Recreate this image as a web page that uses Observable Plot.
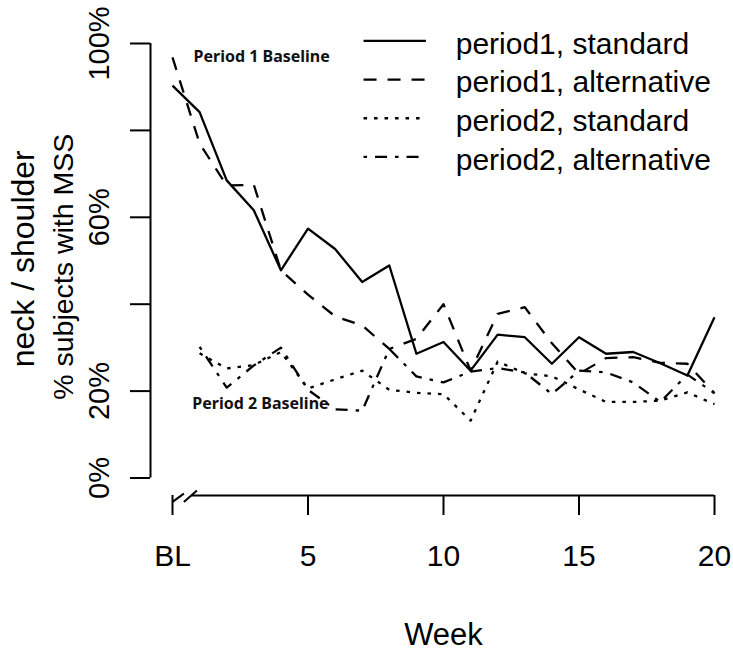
<!DOCTYPE html>
<html>
<head>
<meta charset="utf-8">
<script src="https://cdn.jsdelivr.net/npm/d3@7"></script>
<script src="https://cdn.jsdelivr.net/npm/@observablehq/plot@0.6"></script>
<style>
  html, body { margin: 0; padding: 0; background: #fff; }
  #chart svg { display: block; }
</style>
</head>
<body>
<div id="chart"></div>
<script>
// ---------- data ----------
const weeks = [0,1,2,3,4,5,6,7,8,9,10,11,12,13,14,15,16,17,18,19,20];
const p1Standard    = [90.3,84.2,68.5,61.6,47.8,57.4,52.7,45.1,48.9,28.6,31.3,24.7,33.0,32.4,26.3,32.4,28.6,29.0,26.4,23.6,37.0];
const p1Alternative = [96.8,77.0,67.3,67.5,47.8,42.2,37.2,35.1,29.7,32.0,40.0,24.7,37.8,39.3,31.0,24.0,27.6,27.8,26.5,26.3,19.5];
const p2Weeks = [1,2,3,4,5,6,7,8,9,10,11,12,13,14,15,16,17,18,19,20];
const p2Standard    = [28.7,25.2,26.0,29.0,20.6,22.7,24.7,20.3,19.6,19.3,13.2,26.8,24.1,23.4,20.4,17.5,17.5,17.8,19.7,17.0];
const p2Alternative = [30.2,20.8,25.9,30.0,20.3,15.8,15.5,29.7,23.4,22.0,24.5,25.3,24.3,19.3,24.7,24.3,22.0,17.5,23.8,19.5];

const seriesNames = ["period1, standard", "period1, alternative", "period2, standard", "period2, alternative"];
const xTicks = [0, 5, 10, 15, 20];
const xTickLabels = ["BL", "5", "10", "15", "20"];
const yTicks = [0, 20, 40, 60, 80, 100];
const yTickLabels = ["0%", "20%", "", "60%", "", "100%"];
const annotationLabels = ["Period 1 Baseline", "Period 2 Baseline"];
const annotationWeeks = [0.775, 0.73];
const annotationPcts = [96.85, 17.05];

// ---------- build tables ----------
const seriesData = [
  {name: seriesNames[0], x: weeks,   y: p1Standard},
  {name: seriesNames[1], x: weeks,   y: p1Alternative},
  {name: seriesNames[2], x: p2Weeks, y: p2Standard},
  {name: seriesNames[3], x: p2Weeks, y: p2Alternative}
].map(s => ({name: s.name, rows: s.x.map((w, i) => ({week: w, value: s.y[i], series: s.name}))}));

// styles
const dashStyles = [null, "13,11", "3.5,7", "3.5,8,12,8"];
const lineWidth = 2.3;

// legend layout (in data units of the chart)
const legendX1 = 7.05, legendX2 = 9.35, legendTextX = 10.45, legendTop = 100.6, legendStep = 8.9;
const legendRows = seriesNames.map((n, i) => ({name: n, i, y: legendTop - i * legendStep}));

const annotations = annotationLabels.map((l, i) => ({label: l, week: annotationWeeks[i], pct: annotationPcts[i]}));

// axis break decoration
const axisBreak = [
  {x1: 0.0,  y1: -5.5, x2: 0.42, y2: -3.6},
  {x1: 0.42, y1: -5.5, x2: 0.9,  y2: -2.9}
];

const font = "'Liberation Sans', Arial, Helvetica, sans-serif";
const axisOffset = 17.5;

const marks = [];

// y axis: line + ticks + rotated labels
marks.push(Plot.ruleX([0], {y1: 0, y2: 100, dx: -22, stroke: "#000", strokeWidth: 2}));
marks.push(Plot.axisY({
  ticks: yTicks,
  tickFormat: d => yTickLabels[yTicks.indexOf(d)],
  tickSize: 20,
  tickPadding: 22,
  tickRotate: -90,
  dx: -22,
  fontSize: 29,
  label: null,
  stroke: "#000",
  strokeWidth: 2,
  fill: "#000"
}));

// x axis: line (after break) + ticks + labels
marks.push(Plot.ruleY([0], {x1: 0.72, x2: 20, dy: axisOffset, stroke: "#000", strokeWidth: 2}));
marks.push(Plot.link(axisBreak, {x1: "x1", y1: "y1", x2: "x2", y2: "y2", stroke: "#000", strokeWidth: 2}));
marks.push(Plot.axisX({
  ticks: xTicks,
  tickFormat: d => xTickLabels[xTicks.indexOf(d)],
  tickSize: 20,
  tickPadding: 29,
  dy: axisOffset,
  fontSize: 30,
  label: null,
  stroke: "#000",
  strokeWidth: 2,
  fill: "#000"
}));

// axis titles
marks.push(Plot.text(["Week"], {frameAnchor: "bottom", text: d => d, dy: 166.5, lineAnchor: "bottom", fontSize: 31, fill: "#000"}));
marks.push(Plot.text(["neck / shoulder"], {frameAnchor: "left", text: d => d, rotate: -90, lineAnchor: "bottom", textAnchor: "middle", dx: -139, dy: -2, fontSize: 32, fill: "#000"}));
marks.push(Plot.text(["% subjects with MSS"], {frameAnchor: "left", text: d => d, rotate: -90, lineAnchor: "bottom", textAnchor: "middle", dx: -100, dy: 6, fontSize: 28.5, fill: "#000"}));

// data lines
seriesData.forEach((s, i) => {
  marks.push(Plot.line(s.rows, {
    x: "week", y: "value",
    stroke: "#000", strokeWidth: lineWidth,
    strokeDasharray: dashStyles[i] || undefined,
    strokeLinejoin: "round", strokeLinecap: "butt"
  }));
});

// annotations
marks.push(Plot.text(annotations, {
  x: "week", y: "pct", text: "label", textAnchor: "start", lineAnchor: "middle",
  fontFamily: "'Noto Sans', 'Open Sans', sans-serif", fontWeight: "bold", fontSize: 16, fill: "#111"
}));

// legend
legendRows.forEach(r => {
  marks.push(Plot.link([r], {
    x1: () => legendX1, x2: () => legendX2, y1: "y", y2: "y",
    stroke: "#000", strokeWidth: lineWidth,
    strokeDasharray: dashStyles[r.i] || undefined, strokeLinecap: "butt"
  }));
});
marks.push(Plot.text(legendRows, {
  x: () => legendTextX, y: "y", text: "name", textAnchor: "start", lineAnchor: "middle",
  dy: 3, fontSize: 30, fill: "#000"
}));

const chart = Plot.plot({
  width: 733,
  height: 652,
  marginLeft: 172,
  marginRight: 19,
  marginTop: 43,
  marginBottom: 174.5,
  x: {domain: [0, 20]},
  y: {domain: [0, 100]},
  style: {fontFamily: font, background: "#fff", color: "#000", overflow: "visible"},
  marks
});
document.getElementById("chart").appendChild(chart);
</script>
</body>
</html>
